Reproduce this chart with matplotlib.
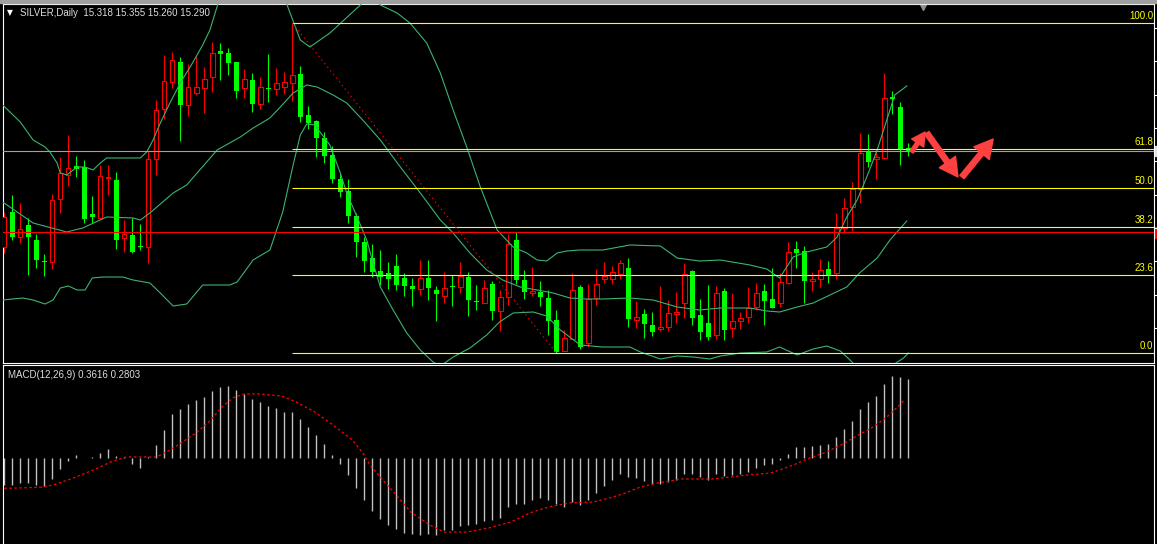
import numpy as np
import matplotlib
matplotlib.use("Agg")
import matplotlib.pyplot as plt
from matplotlib.patches import Rectangle
from matplotlib.transforms import blended_transform_factory

symbol_text = "SILVER,Daily  15.318 15.355 15.260 15.290"
macd_text = "MACD(12,26,9) 0.3616 0.2803"

# daily bars, oldest first
opens = [
    14.33, 14.68, 14.43, 14.55, 14.40, 14.19, 14.18, 14.81, 15.05, 15.14,
    15.13, 14.66, 14.62, 15.02, 15.00, 14.42, 14.45, 14.34, 14.33, 15.21,
    15.71, 15.98, 16.18, 15.75, 15.87, 15.92, 16.03, 16.29, 16.27, 16.18,
    15.92, 16.00, 15.76, 15.92, 15.91, 15.93, 15.97, 16.06, 15.65, 15.59,
    15.42, 15.25, 15.01, 14.89, 14.64, 14.38, 14.22, 14.09, 14.07, 14.14,
    14.02, 13.94, 13.91, 14.02, 13.90, 13.84, 13.94, 13.93, 14.03, 13.79,
    13.77, 13.96, 13.69, 13.83, 14.40, 14.00, 13.87, 13.88, 13.82, 13.60,
    13.29, 13.41, 13.93, 13.37, 13.82, 14.01, 14.01, 14.06, 14.12, 13.60,
    13.66, 13.55, 13.51, 13.53, 13.66, 13.77, 14.09, 13.65, 13.57, 13.45,
    13.89, 13.52, 13.59, 13.63, 13.73, 13.89, 13.81, 13.77, 13.97, 14.31,
    14.29, 13.99, 14.01, 14.11, 14.07, 14.52, 14.73, 14.91, 15.29, 15.21,
    15.22, 15.83, 15.73, 15.32]
highs = [
    14.68, 14.85, 14.77, 14.62, 14.46, 14.26, 14.86, 15.23, 15.45, 15.24,
    15.20, 14.84, 15.15, 15.15, 15.08, 14.60, 14.62, 14.56, 15.29, 15.80,
    16.25, 16.28, 16.23, 16.16, 16.24, 16.13, 16.38, 16.37, 16.32, 16.18,
    16.11, 16.07, 16.03, 16.26, 16.12, 16.08, 16.57, 16.14, 15.74, 15.60,
    15.48, 15.34, 15.06, 15.01, 14.67, 14.43, 14.36, 14.30, 14.18, 14.26,
    14.07, 14.02, 14.20, 14.20, 13.94, 14.08, 14.05, 14.18, 14.08, 13.95,
    14.00, 13.99, 13.90, 14.46, 14.48, 14.10, 14.13, 13.99, 13.90, 13.70,
    13.50, 14.07, 13.95, 13.96, 14.11, 14.18, 14.14, 14.20, 14.22, 13.79,
    13.71, 13.68, 13.94, 13.80, 13.88, 14.17, 14.10, 13.81, 13.95, 13.94,
    13.92, 13.87, 13.68, 13.93, 13.97, 13.96, 14.12, 14.07, 14.38, 14.39,
    14.34, 14.08, 14.21, 14.19, 14.67, 14.82, 14.98, 15.47, 15.46, 15.28,
    16.07, 15.89, 15.78, 15.37]
lows = [
    14.27, 14.40, 14.37, 14.05, 14.12, 14.04, 14.11, 14.67, 14.94, 15.03,
    14.57, 14.57, 14.62, 14.85, 14.31, 14.28, 14.27, 14.30, 14.17, 15.05,
    15.61, 15.92, 15.39, 15.64, 15.85, 15.67, 15.88, 16.00, 16.05, 15.82,
    15.82, 15.68, 15.71, 15.78, 15.85, 15.86, 15.79, 15.58, 15.51, 15.23,
    15.17, 14.97, 14.83, 14.57, 14.23, 14.08, 14.03, 13.95, 13.91, 13.90,
    13.84, 13.74, 13.85, 13.80, 13.59, 13.77, 13.74, 13.87, 13.64, 13.70,
    13.77, 13.60, 13.49, 13.75, 13.96, 13.81, 13.84, 13.74, 13.45, 13.27,
    13.29, 13.41, 13.31, 13.33, 13.75, 13.97, 13.96, 14.01, 13.53, 13.52,
    13.42, 13.44, 13.49, 13.49, 13.57, 13.62, 13.55, 13.40, 13.40, 13.41,
    13.40, 13.43, 13.51, 13.57, 13.70, 13.55, 13.72, 13.73, 13.96, 14.12,
    13.77, 13.89, 13.93, 13.97, 14.01, 14.47, 14.49, 14.77, 15.13, 15.01,
    15.21, 15.66, 15.15, 15.24]
closes = [
    14.63, 14.43, 14.51, 14.43, 14.20, 14.18, 14.80, 15.07, 15.12, 15.11,
    14.61, 14.63, 15.04, 15.03, 14.40, 14.46, 14.28, 14.33, 15.21, 15.70,
    15.99, 16.20, 15.75, 15.93, 15.93, 16.01, 16.27, 16.26, 16.17, 15.89,
    16.01, 15.76, 15.93, 15.91, 15.97, 15.98, 16.05, 15.63, 15.57, 15.42,
    15.24, 15.01, 14.88, 14.64, 14.38, 14.19, 14.08, 14.03, 14.01, 13.95,
    13.94, 13.91, 14.02, 13.92, 13.86, 13.92, 13.93, 14.04, 13.80, 13.78,
    13.92, 13.69, 13.83, 14.36, 14.00, 13.88, 13.89, 13.83, 13.59, 13.28,
    13.42, 13.90, 13.33, 13.81, 13.96, 14.04, 14.08, 14.17, 13.61, 13.63,
    13.56, 13.48, 13.53, 13.67, 13.68, 14.06, 13.62, 13.48, 13.43, 13.87,
    13.50, 13.59, 13.62, 13.72, 13.87, 13.79, 13.72, 13.98, 14.28, 14.27,
    13.99, 14.01, 14.10, 14.05, 14.52, 14.72, 14.91, 15.27, 15.18, 15.23,
    15.82, 15.81, 15.31, 15.29]

# bollinger bands (bar index, price)
upper_idx = [-0.2, 2.0, 3.6, 5.1, 5.7, 6.6, 7.0, 7.8, 9.1, 10.1,
             11.1, 12.0, 12.8, 17.0, 17.8, 18.6, 19.5, 20.7, 22.0, 23.6,
             24.8, 25.7, 26.7, 30.7, 35.3, 37.0, 38.2, 40.7, 44.5, 45.7,
             47.0, 49.1, 50.7, 52.8, 54.5, 56.1, 57.8, 59.5, 61.6, 63.6,
             65.3, 66.6, 67.8, 69.1, 70.3, 71.9, 74.8, 78.2, 82.0, 84.1,
             86.9, 89.5, 93.2, 95.3, 96.9, 98.6, 100.3, 102.8, 104.1, 105.3,
             106.6, 107.8, 109.1, 110.3, 111.3, 112.8]
upper_val = [15.75, 15.58, 15.40, 15.33, 15.28, 15.17, 15.07, 15.05, 15.13, 15.13,
             15.10, 15.17, 15.22, 15.22, 15.28, 15.40, 15.57, 15.77, 15.97, 16.18,
             16.35, 16.50, 16.76, 17.40, 16.76, 16.40, 16.33, 16.47, 16.75, 16.85,
             16.75, 16.67, 16.57, 16.37, 16.07, 15.70, 15.33, 14.93, 14.50, 14.33,
             14.27, 14.20, 14.19, 14.27, 14.29, 14.30, 14.30, 14.35, 14.34, 14.22,
             14.19, 14.20, 14.15, 14.11, 14.02, 14.23, 14.28, 14.33, 14.43, 14.63,
             14.80, 15.03, 15.30, 15.60, 15.85, 15.94]
mid_idx = [-0.2, 3.6, 7.8, 9.8, 12.8, 16.1, 17.0, 18.2, 21.1, 22.8,
           26.6, 29.5, 31.1, 33.2, 34.5, 36.1, 37.8, 39.1, 41.1, 42.8,
           44.8, 47.0, 49.5, 52.0, 54.5, 56.1, 58.2, 60.3, 62.3, 64.5,
           66.6, 68.6, 70.7, 72.8, 74.8, 78.2, 81.1, 84.1, 86.9, 89.5,
           93.2, 95.3, 96.9, 99.1, 101.1, 103.2, 105.3, 106.9, 109.1, 110.7,
           112.8]
mid_val = [14.78, 14.57, 14.48, 14.52, 14.63, 14.62, 14.60, 14.67, 14.87, 14.95,
           15.30, 15.43, 15.52, 15.62, 15.73, 15.87, 15.95, 15.93, 15.85, 15.77,
           15.60, 15.40, 15.13, 14.87, 14.60, 14.47, 14.27, 14.10, 14.00, 13.93,
           13.90, 13.87, 13.82, 13.81, 13.81, 13.82, 13.80, 13.73, 13.70, 13.72,
           13.72, 13.69, 13.68, 13.73, 13.77, 13.85, 13.93, 14.07, 14.22, 14.40,
           14.59]
lower_idx = [-0.2, 2.3, 3.6, 5.1, 6.1, 7.0, 8.0, 9.1, 10.1, 11.0,
             12.3, 14.8, 16.1, 18.2, 19.5, 21.1, 22.8, 24.8, 28.2, 29.1,
             31.1, 33.2, 34.8, 36.1, 37.0, 37.8, 38.8, 40.7, 42.0, 42.8,
             44.1, 45.3, 46.1, 47.0, 48.6, 50.3, 52.0, 53.6, 54.5, 56.1,
             58.2, 60.3, 61.9, 63.6, 66.1, 67.8, 69.5, 72.0, 74.8, 78.2,
             79.5, 82.0, 84.1, 86.1, 88.2, 89.5, 92.0, 95.3, 96.9, 99.1,
             101.1, 102.8, 104.5, 105.7, 108.2, 112.4, 113.0]
lower_val = [13.80, 13.82, 13.80, 13.76, 13.80, 13.92, 13.94, 13.90, 13.90, 14.02,
             14.03, 14.03, 14.00, 13.97, 13.87, 13.74, 13.76, 13.95, 13.95, 13.98,
             14.20, 14.30, 14.68, 15.15, 15.45, 15.56, 15.55, 15.35, 15.07, 14.87,
             14.63, 14.40, 14.17, 13.93, 13.70, 13.47, 13.30, 13.18, 13.14, 13.23,
             13.32, 13.45, 13.58, 13.67, 13.68, 13.64, 13.50, 13.35, 13.33, 13.33,
             13.28, 13.21, 13.24, 13.23, 13.21, 13.24, 13.27, 13.28, 13.33, 13.25,
             13.31, 13.34, 13.29, 13.20, 13.00, 13.22, 13.27]

# MACD histogram, one value per bar
macd_hist = [
    -0.127, -0.127, -0.117, -0.117, -0.124, -0.132, -0.097, -0.054, -0.015, 0.011,
    -0.002, 0.003, 0.021, 0.038, 0.009, 0.004, -0.031, -0.048, 0.003, 0.057,
    0.129, 0.201, 0.222, 0.247, 0.264, 0.279, 0.305, 0.324, 0.330, 0.311,
    0.291, 0.268, 0.255, 0.236, 0.228, 0.212, 0.209, 0.176, 0.141, 0.103,
    0.061, 0.012, -0.031, -0.081, -0.140, -0.196, -0.245, -0.281, -0.311, -0.330,
    -0.347, -0.353, -0.354, -0.350, -0.354, -0.331, -0.331, -0.313, -0.311, -0.304,
    -0.291, -0.288, -0.277, -0.227, -0.215, -0.212, -0.196, -0.186, -0.196, -0.212,
    -0.228, -0.204, -0.219, -0.196, -0.163, -0.132, -0.104, -0.077, -0.089, -0.094,
    -0.109, -0.120, -0.123, -0.112, -0.104, -0.077, -0.077, -0.089, -0.101, -0.077,
    -0.086, -0.081, -0.077, -0.066, -0.048, -0.035, -0.031, -0.012, 0.018, 0.048,
    0.048, 0.052, 0.057, 0.061, 0.094, 0.130, 0.167, 0.222, 0.255, 0.282,
    0.337, 0.374, 0.370, 0.360]
signal_idx = [0.0, 2.2, 5.0, 6.5, 8.7, 11.1, 13.3, 15.2, 19.0, 20.3,
              22.1, 24.0, 25.8, 27.2, 28.6, 30.0, 31.8, 34.6, 36.5, 38.8,
              41.1, 43.5, 44.8, 45.7, 47.1, 49.0, 50.8, 53.2, 55.0, 57.8,
              60.6, 63.3, 65.7, 68.0, 70.7, 73.6, 75.7, 77.3, 79.5, 81.6,
              83.2, 84.5, 88.6, 90.7, 92.8, 95.7, 96.9, 98.6, 100.7, 102.8,
              104.8, 107.0, 108.6, 110.3, 111.9, 112.6]
signal_val = [-0.141, -0.139, -0.135, -0.121, -0.093, -0.057, -0.020, 0.003, 0.003, 0.026,
              0.068, 0.114, 0.173, 0.233, 0.275, 0.293, 0.293, 0.284, 0.256, 0.210,
              0.150, 0.081, 0.022, -0.034, -0.094, -0.172, -0.250, -0.310, -0.342, -0.342,
              -0.323, -0.296, -0.254, -0.227, -0.208, -0.204, -0.185, -0.167, -0.135, -0.117,
              -0.108, -0.098, -0.098, -0.089, -0.080, -0.071, -0.057, -0.034, -0.001, 0.026,
              0.063, 0.109, 0.141, 0.187, 0.242, 0.270]

fib_ratios = [0.0, 23.6, 38.2, 50.0, 61.8, 100.0]
fib_high_bar, fib_low_bar = 36, 69
user_line = 14.48

# hand drawn arrows: (tail bar, tail price, tip bar, tip price, size)
arrows = [(113.4, 15.28, 115.1, 15.48, 8),
          (115.3, 15.47, 119.2, 15.03, 11),
          (119.7, 15.03, 123.6, 15.41, 11)]

W, H = 1157, 544
XMIN, XMAX = -0.16, 143.7

o = np.array(opens); h = np.array(highs); l = np.array(lows); c = np.array(closes)
x = np.arange(len(c))
bull = c >= o

fig = plt.figure(figsize=(W / 100, H / 100), dpi=100, facecolor="black")
ax = fig.add_axes([3 / W, 1 - 363 / H, 1151 / W, 359 / H], facecolor="black")
ax2 = fig.add_axes([3 / W, 0, 1151 / W, 1 - 365 / H], facecolor="black")
fig.patches.append(Rectangle((0, 1 - 2.5 / H), 1, 2.5 / H, transform=fig.transFigure,
                             color="#a0a0a0"))

for a in (ax, ax2):
    a.set_xlim(XMIN, XMAX)
    for s in a.spines.values():
        s.set_color("white")
        s.set_linewidth(0.8)
    a.tick_params(left=False, bottom=False, labelleft=False, labelbottom=False)
ax2.spines["bottom"].set_visible(False)
ax2.tick_params(right=False, labelright=False)

ax.set_ylim(13.17, 16.76)
ax.yaxis.tick_right()
ax.set_yticks(np.arange(13.52, 16.7, 0.3333))
ax.tick_params(axis="y", right=True, labelright=False, direction="out",
               length=3, width=0.8, color="white")

# candles: red hollow = up, green filled = down
ax.vlines(x[bull], l[bull], h[bull], color="#ff0000", lw=0.8, zorder=2)
ax.vlines(x[~bull], l[~bull], h[~bull], color="#00ff00", lw=0.8, zorder=2)
ax.bar(x[bull], c[bull] - o[bull], bottom=o[bull], width=0.55,
       facecolor="black", edgecolor="#ff0000", lw=0.8, zorder=3)
ax.bar(x[~bull], o[~bull] - c[~bull], bottom=c[~bull], width=0.62,
       color="#00ff00", lw=0, zorder=3)

band = "#3cb371"
ax.plot(upper_idx, upper_val, color=band, lw=0.8, zorder=4)
ax.plot(mid_idx, mid_val, color=band, lw=0.8, zorder=4)
ax.plot(lower_idx, lower_val, color=band, lw=0.8, zorder=4)

# fibonacci retracement
fib_hi = h[fib_high_bar]
fib_lo = l[fib_low_bar]
ytrans = blended_transform_factory(ax.transAxes, ax.transData)
for r in fib_ratios:
    lvl = fib_lo + (fib_hi - fib_lo) * r / 100
    ax.hlines(lvl, fib_high_bar - 0.1, XMAX, color="#ffff00", lw=0.8, zorder=5)
    ax.annotate(f"{r:.1f}", xy=(0.9991, lvl), xycoords=ytrans, xytext=(0, 1.5),
                textcoords="offset points", ha="right", va="bottom",
                color="#ffff00", fontsize=7, family="Liberation Sans", zorder=6)
ax.plot([fib_high_bar, fib_low_bar], [fib_hi, fib_lo], color="#ff0000", lw=0.8,
        ls=(0, (1.2, 3)), zorder=5)

ax.axhline(c[-1], color="#a0a0a0", lw=0.8, zorder=5)
ax.axhline(user_line, color="#ff0000", lw=0.8, zorder=5)

# price markers on the cut-off scale
ax.add_patch(Rectangle((1.0009, c[-1] - 0.05), 0.0026, 0.10, transform=ytrans,
                       color="#e0e0e0", clip_on=False))
ax.add_patch(Rectangle((1.0009, user_line - 0.055), 0.0026, 0.11, transform=ytrans,
                       color="#ff0000", clip_on=False))
ax.plot([114.8], [0.992], marker="v", ms=5, color="#909090",
        transform=blended_transform_factory(ax.transData, ax.transAxes), clip_on=False)

for x0, y0, x1, y1, size in arrows:
    ax.annotate("", xy=(x1, y1), xytext=(x0, y0),
                arrowprops=dict(arrowstyle="simple,head_length=1.2,head_width=1.3,tail_width=0.35",
                                color="#ff4040", shrinkA=0, shrinkB=0, mutation_scale=size),
                zorder=7)

# MACD panel
ax2.set_ylim(-0.397, 0.426)
ax2.vlines(x, 0, macd_hist, color="#c0c0c0", lw=1.0)
ax2.plot(signal_idx, signal_val, color="#ff0000", lw=0.9, ls=(0, (2, 2)))

fig.text(10 / W, 1 - 13 / H, "\u25bc", color="white", fontsize=5.5,
         family=["DejaVu Sans"], va="center", ha="center")
fig.text(20 / W, 1 - 13 / H, symbol_text, color="#dcdcdc", fontsize=7,
         family=["Liberation Sans", "DejaVu Sans"], va="center")
fig.text(8 / W, 1 - 375 / H, macd_text, color="#dcdcdc", fontsize=7,
         family=["Liberation Sans", "DejaVu Sans"], va="center")

fig.savefig("out.png", dpi=100, facecolor="black")
